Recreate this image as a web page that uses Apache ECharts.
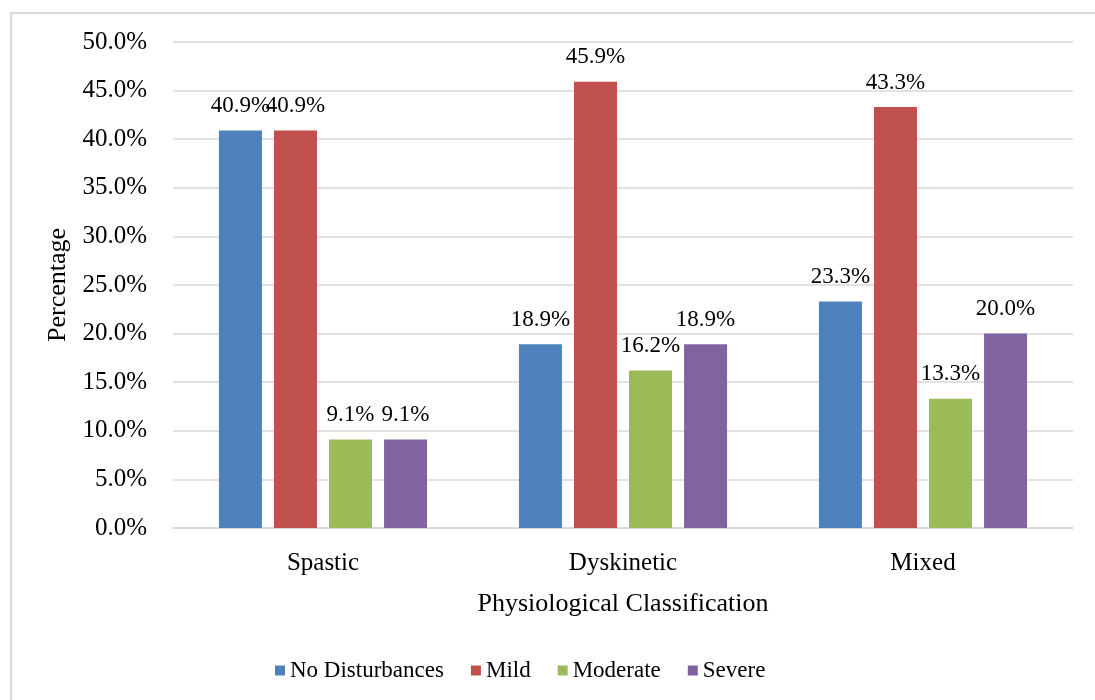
<!DOCTYPE html>
<html>
<head>
<meta charset="utf-8">
<title>Physiological Classification</title>
<script src="https://cdn.jsdelivr.net/npm/echarts@6/dist/echarts.min.js"></script>
<style>
  html, body { margin: 0; padding: 0; background: #fff; }
  #chart { width: 1095px; height: 700px; }
</style>
</head>
<body>
<div id="chart"></div>
<script>
// Categories along the x axis
const categories = ['Spastic', 'Dyskinetic', 'Mixed'];

// Series names and values (percent)
const seriesNames = ['No Disturbances', 'Mild', 'Moderate', 'Severe'];
const noDisturbances = [40.9, 18.9, 23.3];
const mild = [40.9, 45.9, 43.3];
const moderate = [9.1, 16.2, 13.3];
const severe = [9.1, 18.9, 20.0];

// Y axis ticks
const yMin = 0;
const yMax = 50;
const yStep = 5;

const colors = ['#4F81BD', '#C0504D', '#9BBB59', '#8064A2'];
const seriesValues = [noDisturbances, mild, moderate, severe];
const FONT = '"Liberation Serif", "DejaVu Serif", serif';

const chart = echarts.init(document.getElementById('chart'), null, { renderer: 'canvas' });

chart.setOption({
  backgroundColor: '#ffffff',
  animation: false,
  color: colors,
  textStyle: { fontFamily: FONT, color: '#000' },
  graphic: [{
    type: 'rect',
    shape: { x: 11, y: 13, width: 1200, height: 800 },
    style: { fill: 'none', stroke: '#d9d9d9', lineWidth: 2 },
    silent: true,
    z: -1
  }],
  grid: { left: 173, right: 22, top: 42, bottom: 172 },
  legend: {
    data: seriesNames,
    bottom: 13,
    left: 270,
    icon: 'rect',
    itemWidth: 10,
    itemHeight: 10,
    itemGap: 27,
    textStyle: { fontFamily: FONT, fontSize: 23, color: '#000' }
  },
  xAxis: {
    type: 'category',
    data: categories,
    name: 'Physiological Classification',
    nameLocation: 'middle',
    nameGap: 63,
    nameTextStyle: { fontFamily: FONT, fontSize: 26, color: '#000' },
    axisTick: { show: false },
    axisLine: { show: true, lineStyle: { color: '#d9d9d9', width: 1.5 } },
    axisLabel: { fontFamily: FONT, fontSize: 25, color: '#000', margin: 23 }
  },
  yAxis: {
    type: 'value',
    min: yMin,
    max: yMax,
    interval: yStep,
    name: 'Percentage',
    nameLocation: 'middle',
    nameGap: 98,
    nameTextStyle: { fontFamily: FONT, fontSize: 26, color: '#000' },
    axisLine: { show: false },
    axisTick: { show: false },
    splitLine: { lineStyle: { color: '#d9d9d9', width: 1.5 } },
    axisLabel: {
      fontFamily: FONT, fontSize: 25, color: '#000', margin: 26,
      formatter: v => v.toFixed(1) + '%'
    }
  },
  series: seriesNames.map((name, i) => ({
    name,
    type: 'bar',
    data: seriesValues[i],
    barWidth: 43,
    barGap: '28%',
    label: {
      show: true,
      position: 'top',
      distance: 13,
      fontFamily: FONT,
      fontSize: 23,
      color: '#000',
      formatter: p => p.value.toFixed(1) + '%'
    }
  }))
});
</script>
</body>
</html>
